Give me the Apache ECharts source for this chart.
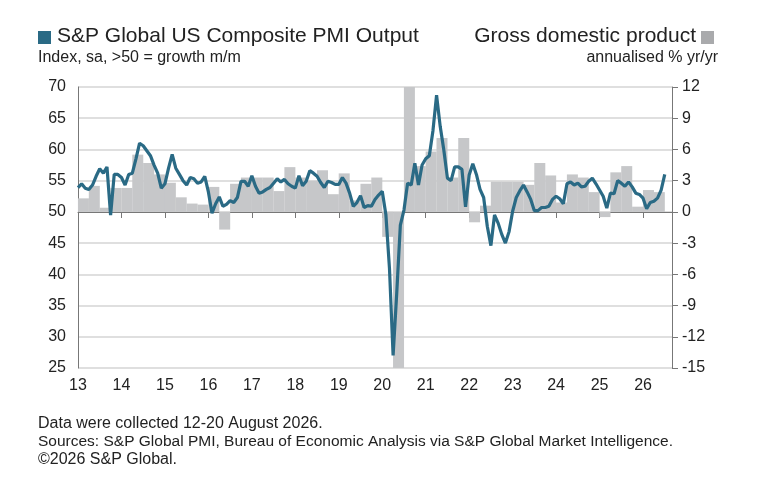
<!DOCTYPE html>
<html><head><meta charset="utf-8">
<script src="https://cdn.jsdelivr.net/npm/echarts@6/dist/echarts.min.js"></script>
<style>html,body{margin:0;padding:0;background:#fff}#c{width:778px;height:496px}</style>
</head><body><div id="c"></div>
<script>
// monthly PMI, Jan 2013 - Aug 2026
const pmi2013 = [53.9,54.5,53.8,53.6,54.3,55.7,56.9,56.2,57.2,49.5,56,56];
const pmi2014 = [55.5,54.3,56,56.2,58.5,61,60.6,59.8,59,57.5,56.2,53.8];
const pmi2015 = [54.5,57,59.2,57,56,55,54.3,55.5,55.3,54.6,54.8,55.7];
const pmi2016 = [53.2,49.8,51.3,52.4,50.9,51.2,51.8,51.5,52.3,54.9,54.9,54.1];
const pmi2017 = [55.8,54.1,53,53.2,53.6,53.9,54.6,55.3,54.8,55.2,54.5,54.1];
const pmi2018 = [53.8,55.8,54.2,54.9,56.6,56.2,55.7,54.7,53.9,54.9,54.7,54.4];
const pmi2019 = [54.4,55.5,54.6,53,50.9,51.5,52.6,50.7,51,50.9,52,52.7];
const pmi2020 = [53.3,49.6,40.9,27,37,47.9,50.3,54.6,54.3,57.8,54.3,57.5];
const pmi2021 = [58.5,59,63,68.7,63.7,59.9,55.4,55,57.2,57.2,56.8,50.8];
const pmi2022 = [55.9,57.7,56,53.6,52.3,47.7,44.6,49.5,48.2,46.4,45,46.8];
const pmi2023 = [50.1,52.3,53.4,54.3,53.2,52,50.2,50.2,50.7,50.7,50.9,52];
const pmi2024 = [52.5,52.1,51.3,54.5,54.8,54.3,54.6,54,54.1,54.9,55.4,54.5];
const pmi2025 = [53.5,52.5,50.6,53,52.9,55,54.6,54.1,54.8,54,53,52.8];
const pmi2026 = [52.2,50.5,51.5,51.7,52.2,53.5,56];
const pmi = [].concat(pmi2013,pmi2014,pmi2015,pmi2016,pmi2017,pmi2018,pmi2019,pmi2020,pmi2021,pmi2022,pmi2023,pmi2024,pmi2025,pmi2026);
// quarterly GDP, 2013Q1 - 2026Q2
const gdp = [1.3,2.5,0.4,2.3, 2.3,5.5,4.7,3.6, 2.8,1.4,0.8,0.7, 2.4,-1.7,2.7,3.3,
  3.3,3.3,2.0,4.3, 3.3,3.0,4.0,1.7, 3.7,1.1,2.7,3.3, -2.4,-28,34,4.4,
  5.8,7.1,3.3,7.1, -1.0,0.6,2.9,2.9, 2.9,2.6,4.7,3.5, 0.9,3.6,3.3,1.9,
  -0.5,3.8,4.4,0.5, 2.1,1.9];
const startYear = 2013;

const lineData = pmi.map((v,i)=>[startYear+i/12, v]);
const barData = gdp.map((v,i)=>[startYear+i/4+0.125, v]);
const blue = '#2a6a85', grey = '#c6c7c9', txt = '#222';
const F = '"Liberation Sans", Arial, sans-serif';

const chart = echarts.init(document.getElementById('c'));
chart.setOption({
  backgroundColor:'#fff',
  animation:false,
  grid:{left:78,right:106,top:87,bottom:128},
  xAxis:[
    {type:'value',min:startYear,max:startYear+164/12,interval:1,
     axisLine:{show:false},axisTick:{show:false},splitLine:{show:false},
     axisLabel:{formatter:v=>String(v%100),color:txt,fontSize:16,fontFamily:F,margin:10,showMaxLabel:false}},
    {type:'value',position:'bottom',offset:-156,min:startYear,max:startYear+164/12,interval:1,
     axisLine:{show:true,lineStyle:{color:'#777',width:1}},axisTick:{show:true,inside:false,length:6,lineStyle:{color:'#777'}},
     axisLabel:{show:false},splitLine:{show:false}}
  ],
  yAxis:[
    {type:'value',min:25,max:70,interval:5,
     axisLine:{show:true,lineStyle:{color:'#777'}},axisTick:{show:false},
     axisLabel:{color:txt,fontSize:16,fontFamily:F,margin:12},
     splitLine:{lineStyle:{color:'#d4d4d4',width:1.5}}},
    {type:'value',min:-15,max:12,interval:3,position:'right',
     axisLine:{show:true,lineStyle:{color:'#777'}},axisTick:{show:true,length:6,lineStyle:{color:'#777'}},
     axisLabel:{color:txt,fontSize:16,fontFamily:F,margin:10},splitLine:{show:false}}
  ],
  series:[
    {type:'bar',yAxisIndex:1,data:barData,barWidth:11,itemStyle:{color:grey},clip:true,z:1},
    {type:'line',data:lineData,symbol:'none',lineStyle:{color:blue,width:3.2},z:3}
  ],
  graphic:[
    {type:'rect',left:38,top:31,shape:{width:13,height:13},style:{fill:blue}},
    {type:'text',left:57,top:26,style:{text:'S&P Global US Composite PMI Output',fill:txt,font:'21px '+F}},
    {type:'text',left:38,top:50,style:{text:'Index, sa, >50 = growth m/m',fill:txt,font:'16px '+F}},
    {type:'text',right:82,top:26,style:{text:'Gross domestic product',fill:txt,font:'21px '+F}},
    {type:'rect',right:64,top:31,shape:{width:13,height:13},style:{fill:'#a9aaac'}},
    {type:'text',right:60,top:50,style:{text:'annualised % yr/yr',fill:txt,font:'16px '+F}},
    {type:'text',left:38,top:416,style:{text:'Data were collected 12-20 August 2026.',fill:txt,font:'16px '+F}},
    {type:'text',left:38,top:434,style:{text:'Sources: S&P Global PMI, Bureau of Economic Analysis via S&P Global Market Intelligence.',fill:txt,font:'15.5px '+F}},
    {type:'text',left:38,top:452,style:{text:'\u00a92026 S&P Global.',fill:txt,font:'16px '+F}}
  ]
});
</script></body></html>
